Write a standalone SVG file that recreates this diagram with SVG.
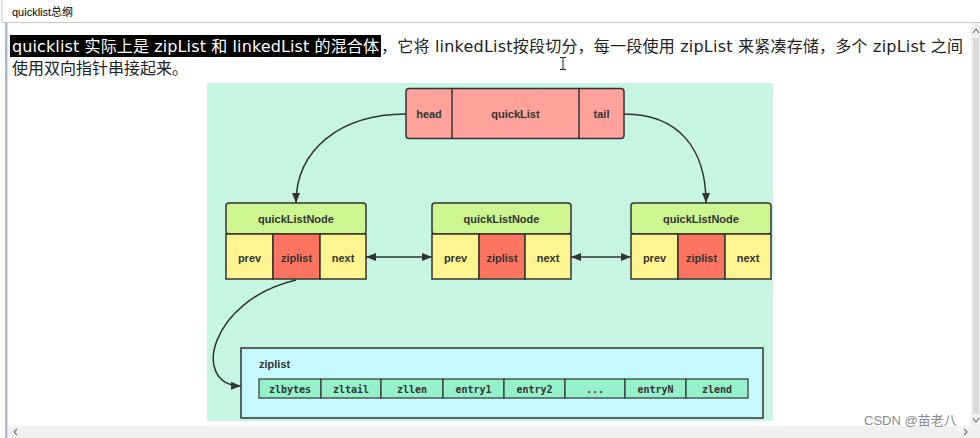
<svg xmlns="http://www.w3.org/2000/svg" width="980" height="438" viewBox="0 0 980 438">
<defs>
<style>
.hdr{font-family:"Liberation Sans","Noto Sans CJK SC",sans-serif;font-size:11px;fill:#000}
.body{font-family:"DejaVu Sans","Noto Sans CJK SC",sans-serif;font-size:16px}
.lbl{font-family:"Liberation Sans",sans-serif;font-size:11px;font-weight:bold;fill:#333;text-anchor:middle}
.mono{font-family:"DejaVu Sans Mono","Liberation Mono",monospace;font-size:10px;font-weight:bold;fill:#333;text-anchor:middle}
.box{stroke:#333;stroke-width:1.5}
.conn{fill:none;stroke:#333;stroke-width:1.5}
.pink{fill:#ffa39a}
.green{fill:#cdf590}
.yel{fill:#fff590}
.red{fill:#ff7361}
.ent{fill:#96f0ca;stroke:#333;stroke-width:1.2}
.chev{fill:none;stroke:#777;stroke-width:1.2}
</style>
<marker id="ah" viewBox="0 0 10 10" refX="10" refY="5" markerWidth="10" markerHeight="10" markerUnits="userSpaceOnUse" orient="auto-start-reverse">
<path d="M0,1 L10,5 L0,9 Z" fill="#333"/>
</marker>
</defs>
<!-- window chrome -->
<rect x="0" y="0" width="980" height="438" fill="#ffffff"/>
<line x1="2" y1="0" x2="2" y2="22" stroke="#c8c8c8"/>
<line x1="2" y1="22.5" x2="980" y2="22.5" stroke="#c8c8c8"/>
<text class="hdr" x="12" y="16">quicklist总纲</text>
<rect x="5" y="23" width="2.5" height="415" fill="#a9b9cf"/>
<rect x="971" y="23" width="9" height="403" fill="#f0f0f0"/>
<rect x="973" y="38" width="6" height="376" fill="#dadada"/>
<path class="chev" d="M973,33 L976,29 L979,33"/>
<path class="chev" d="M973,418 L976,422 L979,418"/>
<rect x="8" y="426" width="972" height="12" fill="#f0f0f0"/>
<path class="chev" d="M17,429 L14,432 L17,435"/>
<path class="chev" d="M964,429 L967,432 L964,435"/>
<!-- paragraph -->
<rect x="10" y="35" width="371" height="22" fill="#000"/>
<text class="body" x="12" y="52" fill="#fff" textLength="367" lengthAdjust="spacing">quicklist 实际上是 zipList 和 linkedList 的混合体</text>
<text class="body" x="381" y="52" fill="#222" textLength="582" lengthAdjust="spacing">，它将 linkedList按段切分，每一段使用 zipList 来紧凑存储，多个 zipList 之间</text>
<text class="body" x="12" y="74" fill="#222">使用双向指针串接起来。</text>
<path d="M560,57.5 H566 M563,57.5 V69.5 M560,69.5 H566" stroke="#222" stroke-width="1" fill="none"/>
<!-- diagram background -->
<rect x="207" y="83" width="566" height="338" fill="#c6f6e2"/>
<!-- quickList -->
<g id="quickList">
<rect class="box pink" x="406" y="88.5" width="218" height="50" rx="3"/>
<line class="box" x1="452" y1="88.5" x2="452" y2="138.5"/>
<line class="box" x1="579" y1="88.5" x2="579" y2="138.5"/>
<text class="lbl" x="429" y="118">head</text>
<text class="lbl" x="515.5" y="118">quickList</text>
<text class="lbl" x="601.5" y="118">tail</text>
</g>
<!-- nodes -->
<g id="node1">
<rect class="box green" x="226" y="203" width="140" height="31" rx="3"/>
<rect class="box yel" x="226" y="234" width="47" height="45"/>
<rect class="box red" x="273" y="234" width="47" height="45"/>
<rect class="box yel" x="320" y="234" width="46" height="45"/>
<text class="lbl" x="296" y="223">quickListNode</text>
<text class="lbl" x="249.5" y="262">prev</text>
<text class="lbl" x="296.5" y="262">ziplist</text>
<text class="lbl" x="343" y="262">next</text>
</g>
<g id="node2">
<rect class="box green" x="432" y="203" width="139" height="31" rx="3"/>
<rect class="box yel" x="432" y="234" width="47" height="45"/>
<rect class="box red" x="479" y="234" width="46" height="45"/>
<rect class="box yel" x="525" y="234" width="46" height="45"/>
<text class="lbl" x="501.5" y="223">quickListNode</text>
<text class="lbl" x="455.5" y="262">prev</text>
<text class="lbl" x="502" y="262">ziplist</text>
<text class="lbl" x="548" y="262">next</text>
</g>
<g id="node3">
<rect class="box green" x="631" y="203" width="140" height="31" rx="3"/>
<rect class="box yel" x="631" y="234" width="47" height="45"/>
<rect class="box red" x="678" y="234" width="47" height="45"/>
<rect class="box yel" x="725" y="234" width="46" height="45"/>
<text class="lbl" x="701" y="223">quickListNode</text>
<text class="lbl" x="654.5" y="262">prev</text>
<text class="lbl" x="701.5" y="262">ziplist</text>
<text class="lbl" x="748" y="262">next</text>
</g>
<!-- ziplist -->
<g id="ziplist">
<rect class="box" x="241" y="348" width="522" height="70" fill="#c5f9fc"/>
<text class="lbl" x="259" y="368" style="text-anchor:start">ziplist</text>
<rect class="ent" x="259" y="379" width="62" height="19"/>
<rect class="ent" x="321" y="379" width="60" height="19"/>
<rect class="ent" x="381" y="379" width="62" height="19"/>
<rect class="ent" x="443" y="379" width="61" height="19"/>
<rect class="ent" x="504" y="379" width="61" height="19"/>
<rect class="ent" x="565" y="379" width="60" height="19"/>
<rect class="ent" x="625" y="379" width="61" height="19"/>
<rect class="ent" x="686" y="379" width="62" height="19"/>
<text class="mono" x="290" y="392.5">zlbytes</text>
<text class="mono" x="351" y="392.5">zltail</text>
<text class="mono" x="412" y="392.5">zllen</text>
<text class="mono" x="473.5" y="392.5">entry1</text>
<text class="mono" x="534.5" y="392.5">entry2</text>
<text class="mono" x="595" y="392.5">...</text>
<text class="mono" x="655.5" y="392.5">entryN</text>
<text class="mono" x="717" y="392.5">zlend</text>
</g>
<!-- connectors -->
<g id="connectors">
<path class="conn" d="M406,114 C340,114 296,150 296,203" marker-end="url(#ah)"/>
<path class="conn" d="M624,114 C680,114 706,150 706,203" marker-end="url(#ah)"/>
<path class="conn" d="M366,257 L432,257" marker-start="url(#ah)" marker-end="url(#ah)"/>
<path class="conn" d="M571,257 L631,257" marker-start="url(#ah)" marker-end="url(#ah)"/>
<path class="conn" d="M296,280 C210,300 190,385 241,386" marker-end="url(#ah)"/>
</g>
<text x="864" y="425" font-family="'Liberation Sans','Noto Sans CJK SC',sans-serif" font-size="13" fill="#8a8a8a">CSDN @苗老八</text>
</svg>
